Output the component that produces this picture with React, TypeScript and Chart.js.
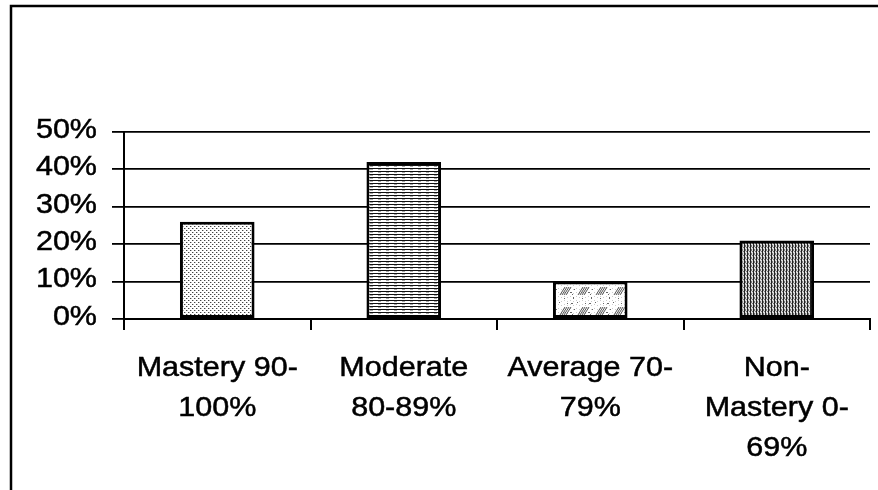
import React, { useEffect, useRef } from 'react';
import { Chart, registerables } from 'chart.js';

Chart.register(...registerables);

// ---- data ----
const categoryLabels: string[][] = [
  ['Mastery 90-', '100%'],
  ['Moderate', '80-89%'],
  ['Average 70-', '79%'],
  ['Non-', 'Mastery 0-', '69%'],
];
const percentValues: number[] = [26, 42, 10, 21];
const yTickValues: number[] = [0, 10, 20, 30, 40, 50];
const patternKinds: string[] = ['dots', 'hlines', 'speckle', 'vlines'];

function makePattern(kind: string): CanvasPattern | string {
  const c = document.createElement('canvas');
  const x = c.getContext('2d');
  if (!x) return '#ccc';
  if (kind === 'dots') {
    c.width = 4; c.height = 4;
    x.fillStyle = '#fff'; x.fillRect(0, 0, 4, 4);
    x.fillStyle = '#444';
    x.fillRect(0, 0, 1, 1);
    x.fillRect(2, 2, 1, 1);
    x.fillStyle = '#bbb';
    x.fillRect(1, 0, 1, 1);
    x.fillRect(3, 2, 1, 1);
  } else if (kind === 'hlines') {
    c.width = 8; c.height = 3;
    x.fillStyle = '#fff'; x.fillRect(0, 0, 8, 3);
    x.fillStyle = '#111'; x.fillRect(0, 0, 8, 1);
    x.fillStyle = '#aaa'; x.fillRect(2, 1, 3, 1);
  } else if (kind === 'speckle') {
    c.width = 18; c.height = 20;
    x.fillStyle = '#fff'; x.fillRect(0, 0, 18, 20);
    x.fillStyle = '#ccc';
    for (let i = 0; i < 18; i += 3) for (let j = (i % 2); j < 20; j += 4) x.fillRect(i, j, 1, 1);
    x.strokeStyle = '#555'; x.lineWidth = 1;
    for (let i = 0; i < 4; i++) {
      x.beginPath(); x.moveTo(2 + i * 2, 15); x.lineTo(7 + i * 2, 7); x.stroke();
    }
    x.fillStyle = '#666';
    x.fillRect(13, 3, 2, 1); x.fillRect(15, 17, 1, 2); x.fillRect(1, 2, 1, 1);
    x.fillRect(12, 12, 2, 1); x.fillRect(16, 9, 1, 1); x.fillRect(6, 18, 1, 1);
    x.fillRect(9, 3, 1, 1); x.fillRect(14, 14, 1, 1);
  } else {
    c.width = 3; c.height = 4;
    x.fillStyle = '#ddd'; x.fillRect(0, 0, 3, 4);
    x.fillStyle = '#222'; x.fillRect(0, 0, 1, 4);
    x.fillStyle = '#777'; x.fillRect(1, 1, 1, 2); x.fillRect(2, 3, 1, 1);
  }
  return x.createPattern(c, 'repeat') || '#ccc';
}

const FONT = '28px "Liberation Sans", Arial, sans-serif';
const STRETCH = 1.09;

const framePlugin = {
  id: 'frame',
  beforeDraw(chart: any) {
    const ctx = chart.ctx as CanvasRenderingContext2D;
    ctx.save();
    ctx.fillStyle = '#fff';
    ctx.fillRect(0, 0, chart.width, chart.height);
    ctx.strokeStyle = '#000';
    ctx.lineWidth = 2.5;
    ctx.beginPath();
    ctx.moveTo(11, chart.height + 5);
    ctx.lineTo(11, 6);
    ctx.lineTo(chart.width + 5, 6);
    ctx.stroke();
    ctx.restore();
  },
};

const labelsPlugin = {
  id: 'stretchedLabels',
  afterDraw(chart: any) {
    const ctx = chart.ctx as CanvasRenderingContext2D;
    const xs = chart.scales.x;
    const ys = chart.scales.y;
    ctx.save();
    ctx.fillStyle = '#000';
    ctx.strokeStyle = '#000';
    ctx.lineWidth = 0.5;
    ctx.font = FONT;
    ctx.textBaseline = 'middle';
    // y labels
    ctx.textAlign = 'right';
    ys.ticks.forEach((t: any) => {
      const py = ys.getPixelForValue(t.value);
      ctx.save();
      ctx.translate(ys.right - 27, py - 2);
      ctx.scale(STRETCH, 1);
      ctx.fillText(t.value + '%', 0, 0);
      ctx.strokeText(t.value + '%', 0, 0);
      ctx.restore();
    });
    // x labels
    ctx.textAlign = 'center';
    const labels = chart.data.labels as string[][];
    labels.forEach((lines, i) => {
      const px = xs.getPixelForValue(i);
      lines.forEach((line, j) => {
        ctx.save();
        ctx.translate(px, xs.top + 49 + j * 40);
        ctx.scale(STRETCH, 1);
        ctx.fillText(line, 0, 0);
        ctx.strokeText(line, 0, 0);
        ctx.restore();
      });
    });
    ctx.restore();
  },
};

export default function App() {
  const ref = useRef<HTMLCanvasElement | null>(null);
  useEffect(() => {
    if (!ref.current) return;
    const chart = new Chart(ref.current, {
      type: 'bar',
      data: {
        labels: categoryLabels as any,
        datasets: [
          {
            data: percentValues,
            backgroundColor: patternKinds.map(makePattern) as any,
            borderColor: '#000',
            borderWidth: 3,
            borderSkipped: false,
            barPercentage: 0.4,
            categoryPercentage: 1,
          },
        ],
      },
      options: {
        animation: false,
        responsive: false,
        maintainAspectRatio: false,
        layout: { padding: { left: 0, top: 132, right: 8, bottom: 0 } },
        plugins: { legend: { display: false }, tooltip: { enabled: false }, title: { display: false } },
        scales: {
          x: {
            type: 'category',
            offset: true,
            afterFit(scale: any) { scale.height = 171; },
            grid: {
              offset: true,
              drawOnChartArea: true,
              color: (c: any) => (c.index === categoryLabels.length ? '#000' : 'rgba(0,0,0,0)'),
              tickColor: '#000',
              lineWidth: 2,
              tickLength: 11,
            },
            border: { display: true, color: '#000', width: 2 },
            ticks: { display: false },
          },
          y: {
            min: 0,
            max: 50,
            afterFit(scale: any) { scale.width = 124; },
            afterBuildTicks(scale: any) { scale.ticks = yTickValues.map((v) => ({ value: v })); },
            grid: { color: '#000', lineWidth: 1.8, tickLength: 12 },
            border: { display: true, color: '#000', width: 2 },
            ticks: { display: false, stepSize: 10 },
          },
        },
      } as any,
      plugins: [framePlugin, labelsPlugin],
    });
    return () => chart.destroy();
  }, []);
  return (
    <div style={{ position: 'absolute', left: 0, top: 0, width: 878, height: 490 }}>
      <canvas ref={ref} width={878} height={490} style={{ width: 878, height: 490, display: 'block' }} />
    </div>
  );
}
